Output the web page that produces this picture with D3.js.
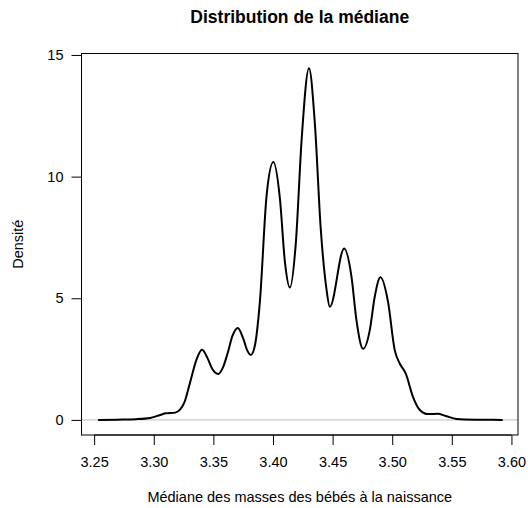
<!DOCTYPE html>
<html>
<head>
<meta charset="utf-8">
<script src="https://cdn.jsdelivr.net/npm/d3@7"></script>
<style>
  body { margin: 0; background: #fff; }
  text { font-family: "Liberation Sans", Arial, sans-serif; }
</style>
</head>
<body>
<svg></svg>
<script>
// density estimate
const medianes = [3.254, 3.270, 3.285, 3.297, 3.304, 3.310, 3.318, 3.322, 3.3255, 3.330,
    3.336, 3.3405, 3.345, 3.349, 3.354, 3.358, 3.362, 3.366, 3.3705, 3.375,
    3.3785, 3.3815, 3.385, 3.389, 3.3946, 3.4003, 3.4058, 3.410, 3.4142, 3.4192,
    3.424, 3.4302, 3.4351, 3.440, 3.4448, 3.4477, 3.4597, 3.4658, 3.470,
    3.4756, 3.4812, 3.4853, 3.4901, 3.4965, 3.5021, 3.5063, 3.5113, 3.5174, 3.523,
    3.530, 3.538, 3.545, 3.554, 3.570, 3.592];
const densites = [0.00, 0.01, 0.03, 0.08, 0.18, 0.27, 0.30, 0.42, 0.70, 1.45,
    2.50, 2.88, 2.55, 2.10, 1.89, 2.15, 2.75, 3.45, 3.78, 3.35,
    2.85, 2.67, 3.10, 4.85, 9.20, 10.60, 9.10, 6.50, 5.44, 7.30,
    11.50, 14.45, 12.20, 7.90, 5.40, 4.65, 7.05, 5.90, 4.10,
    2.92, 3.69, 5.05, 5.86, 4.85, 2.87, 2.32, 1.91, 0.95, 0.42,
    0.24, 0.25, 0.16, 0.04, 0.01, 0.00];
const xTicks = [3.25, 3.30, 3.35, 3.40, 3.45, 3.50, 3.55, 3.60];
const yTicks = [0, 5, 10, 15];

const data = medianes.map(function(m, i) { return { x: m, y: densites[i] }; });

const svgWidth = 528, svgHeight = 508;
const margin = { top: 53.5, left: 81.5 };
const width = 436.5, height = 381.5;

const svg = d3.select('svg')
    .attr("width", svgWidth)
    .attr("height", svgHeight);

const g = svg.append("g")
    .attr("transform", "translate(" + margin.left + "," + margin.top + ")");

const x = d3.scaleLinear().domain([3.2394, 3.6055]).range([0, width]);
const y = d3.scaleLinear().domain([-0.62, 15.06]).range([height, 0]);

// ligne de base grise
g.append("line")
    .attr("x1", 0).attr("x2", width)
    .attr("y1", y(0)).attr("y2", y(0))
    .attr("stroke", "#bebebe")
    .attr("stroke-width", 1);

const line = d3.line()
    .x(function(d) { return x(d.x); })
    .y(function(d) { return y(d.y); })
    .curve(d3.curveMonotoneX);

g.append("path")
    .datum(data)
    .attr("fill", "none")
    .attr("stroke", "black")
    .attr("stroke-width", 2)
    .attr("stroke-linejoin", "round")
    .attr("stroke-linecap", "round")
    .attr("d", line);

// axes
const xAxis = g.append("g")
    .attr("transform", "translate(0," + height + ")")
    .call(d3.axisBottom(x).tickValues(xTicks).tickFormat(d3.format(".2f"))
        .tickSize(10).tickPadding(12).tickSizeOuter(0));
xAxis.select(".domain").attr("d", "M" + x(3.25) + ",0H" + x(3.60));

const yAxis = g.append("g")
    .call(d3.axisLeft(y).tickValues(yTicks)
        .tickSize(10).tickPadding(8).tickSizeOuter(0));
yAxis.select(".domain").attr("d", "M0," + y(0) + "V" + y(15));

svg.selectAll(".tick text")
    .attr("font-family", "Liberation Sans, Arial, sans-serif")
    .attr("font-size", "14.5px")
    .attr("fill", "#000");

// cadre
g.append("rect")
    .attr("width", width)
    .attr("height", height)
    .attr("fill", "none")
    .attr("stroke", "black");

svg.append("text")
    .attr("x", margin.left + width / 2)
    .attr("y", 23)
    .attr("text-anchor", "middle")
    .attr("font-size", "17.5px")
    .attr("font-weight", "bold")
    .text("Distribution de la médiane");

svg.append("text")
    .attr("x", margin.left + width / 2)
    .attr("y", 502)
    .attr("text-anchor", "middle")
    .attr("font-size", "14.5px")
    .text("Médiane des masses des bébés à la naissance");

svg.append("text")
    .attr("transform", "translate(23," + (margin.top + height / 2) + ") rotate(-90)")
    .attr("text-anchor", "middle")
    .attr("font-size", "14.5px")
    .text("Densité");
</script>
</body>
</html>
